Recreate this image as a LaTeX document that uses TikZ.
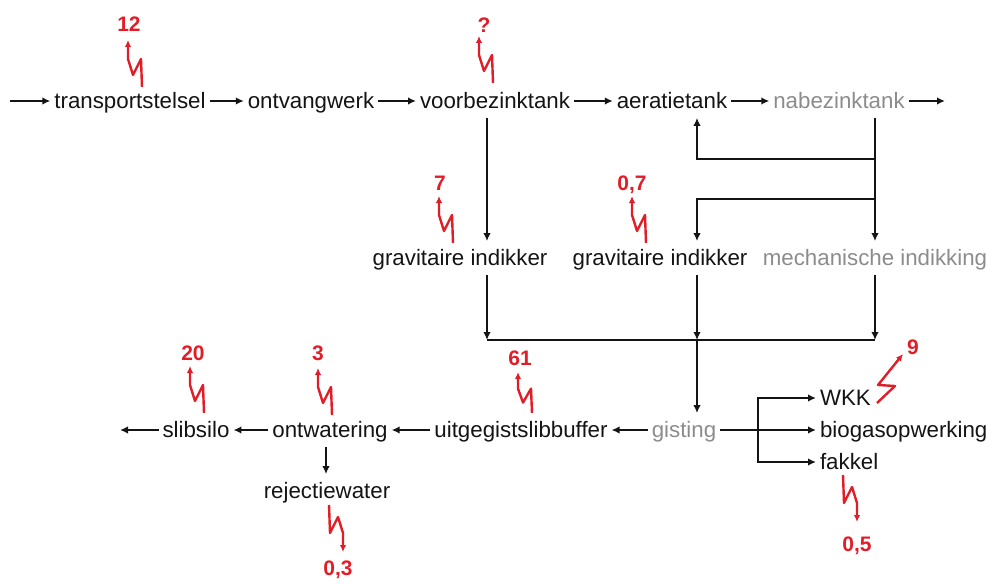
\documentclass[tikz,border=0pt]{standalone}
\usepackage{fontspec}
\setmainfont{Liberation Sans}
\usetikzlibrary{arrows.meta}
\definecolor{txt}{RGB}{20,20,20}
\definecolor{txtgray}{RGB}{140,140,140}
\definecolor{zapred}{RGB}{225,30,40}
\begin{document}
\begin{tikzpicture}[x=1pt,y=-1pt,
 lbl/.style={font=\fontsize{22.3}{26}\selectfont, text=txt, text height=15.8pt, text depth=0pt, inner xsep=4pt, inner ysep=9pt, outer sep=0pt},
 lblg/.style={lbl, text=txtgray},
 arr/.style={draw=txt, line width=2pt, -{Latex[length=8pt,width=7.5pt]}},
 ln/.style={draw=txt, line width=2pt},
 num/.style={font=\fontsize{21}{24}\selectfont\bfseries, text=zapred, inner sep=0pt},
 zapline/.style={draw=zapred, line width=2.4pt, -{Latex[length=7pt,width=6.5pt]}, line join=round},
 zapup/.pic={\draw[zapline] (0,0) -- (-1,-28) -- (-9,-12) -- (-14,-28) -- (-14,-47);}
]
\useasboundingbox (0,0) rectangle (987,583);

% row 1
\node[lbl] (ts) at (130,101) {transportstelsel};
\node[lbl] (ow) at (311,101) {ontvangwerk};
\node[lbl] (vbt) at (495,101) {voorbezinktank};
\node[lbl] (at) at (672,101) {aeratietank};
\node[lblg] (nbt) at (839,101) {nabezinktank};
\coordinate (in) at (10,101);
\coordinate (out) at (945,101);

% row 2
\node[lbl] (gi1) at (460,258) {gravitaire indikker};
\node[lbl] (gi2) at (660,258) {gravitaire indikker};
\node[lblg] (mi) at (875,258) {mechanische indikking};

% row 3
\node[lbl] (sl) at (196,430) {slibsilo};
\node[lbl] (ont) at (330,430) {ontwatering};
\node[lbl] (ub) at (521,430) {uitgegistslibbuffer};
\node[lblg] (gis) at (684,430) {gisting};
\node[lbl, anchor=west] (wkk) at (816,398) {WKK};
\node[lbl, anchor=west] (bio) at (816,430) {biogasopwerking};
\node[lbl, anchor=west] (fak) at (816,462) {fakkel};
\node[lbl] (rej) at (327,491) {rejectiewater};
\coordinate (out2) at (120,430);

% helper coordinates
\coordinate (c1) at (487,340);
\coordinate (c2) at (697,340);
\coordinate (c3) at (875,340);
\coordinate (b1) at (875,159);
\coordinate (b2) at (875,199);
\coordinate (fx) at (758,430);
\coordinate (rx) at (326,0);

% connectors
\draw[arr] (in) -- (ts.west);
\draw[arr] (ts.east) -- (ow.west);
\draw[arr] (ow.east) -- (vbt.west);
\draw[arr] (vbt.east) -- (at.west);
\draw[arr] (at.east) -- (nbt.west);
\draw[arr] (nbt.east) -- (out);
\draw[arr] (vbt.south -| c1) -- (gi1.north -| c1);
\draw[arr] (nbt.south -| c3) -- (mi.north -| c3);
\draw[arr] (b1) -| (at.south -| c2);
\draw[arr] (b2) -| (gi2.north -| c2);
\draw[arr] (gi1.south -| c1) -- (c1);
\draw[arr] (gi2.south -| c2) -- (c2);
\draw[arr] (mi.south -| c3) -- (c3);
\draw[ln] (c1) -- (c3);
\draw[arr] (c2) -- (gis.north -| c2);
\draw[arr] (gis.west) -- (ub.east);
\draw[arr] (ub.west) -- (ont.east);
\draw[arr] (ont.west) -- (sl.east);
\draw[arr] (sl.west) -- (out2);
\draw[arr] (ont.south -| rx) -- (rej.north -| rx);
\draw[arr] (gis.east) -- (bio.west);
\draw[arr] (fx) |- (wkk.west);
\draw[arr] (fx) |- (fak.west);

% red energy arrows
\pic at (142,87) {zapup};
\pic at (493,83) {zapup};
\pic at (453,243) {zapup};
\pic at (646,243) {zapup};
\pic at (204,413) {zapup};
\pic at (332,415) {zapup};
\pic[yscale=0.87] at (532,413) {zapup};
\pic[rotate=180] at (329,505) {zapup};
\pic[rotate=180] at (843,475) {zapup};
\draw[zapline] (877,403) -- (895,386) -- (878,385) -- (903,354);

\node[num] (n12) at (129,24) {12};
\node[num] (nq) at (484,25) {?};
\node[num] (n7) at (440,183) {7};
\node[num] (n07) at (632,185) {0,7};
\node[num] (n20) at (193,353) {20};
\node[num] (n3) at (318,353) {3};
\node[num] (n61) at (520,358) {61};
\node[num] (n03) at (338,570) {0,3};
\node[num] (n05) at (857,546) {0,5};
\node[num] (n9) at (913,347) {9};
\end{tikzpicture}
\end{document}
